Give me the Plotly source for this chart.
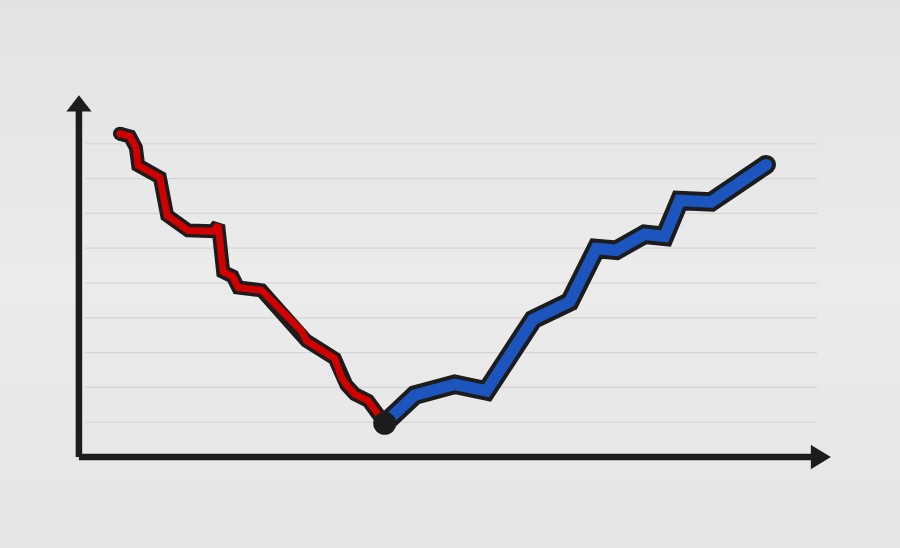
import plotly.graph_objects as go

# --- data ---
red_x = [5.49, 6.83, 7.63, 7.94, 10.84, 11.82, 14.63, 17.98, 18.65, 19.32, 20.58, 21.33,
         24.46, 29.81, 30.48, 34.27, 35.17, 35.84, 36.95, 38.73, 40.96]
red_y = [9.29, 9.21, 8.89, 8.38, 8.03, 6.94, 6.51, 6.49, 6.66, 5.32, 5.19, 4.87,
         4.79, 3.62, 3.34, 2.83, 2.29, 2.07, 1.81, 1.62, 0.97]
blue_x = [40.96, 44.98, 50.33, 54.58, 60.82, 65.73, 69.30, 71.98, 75.77, 78.45, 80.46, 84.70, 92.06]
blue_y = [0.97, 1.78, 2.09, 1.90, 3.95, 4.46, 5.99, 5.94, 6.40, 6.34, 7.37, 7.33, 8.40]
grid_values = [1, 2, 3, 4, 5, 6, 7, 8, 9]

BLACK = "#1c1c1c"
RED = "#d10000"
BLUE = "#1c55be"

fig = go.Figure()

def add_line(xs, ys, color, w):
    fig.add_trace(go.Scatter(x=xs, y=ys, mode="lines", line=dict(color=color, width=w),
                             hoverinfo="skip", cliponaxis=False))

def add_caps(xs, ys, color, size):
    fig.add_trace(go.Scatter(x=[xs[0], xs[-1]], y=[ys[0], ys[-1]], mode="markers",
                             marker=dict(color=color, size=size, opacity=1, line=dict(width=0)),
                             hoverinfo="skip", cliponaxis=False))

# red segment: outline then core
add_line(red_x, red_y, BLACK, 14)
add_caps(red_x, red_y, BLACK, 14)
add_line(red_x, red_y, RED, 7)
add_caps(red_x, red_y, RED, 7)
# blue segment
add_line(blue_x, blue_y, BLACK, 19.5)
add_caps(blue_x, blue_y, BLACK, 19.5)
add_line(blue_x, blue_y, BLUE, 11.5)
add_caps(blue_x, blue_y, BLUE, 11.5)
# turning point dot
fig.add_trace(go.Scatter(x=[blue_x[0]], y=[blue_y[0]], mode="markers",
                         marker=dict(color=BLACK, size=23, opacity=1, line=dict(width=0)),
                         hoverinfo="skip", cliponaxis=False))

shapes = []
# background gradient bands (paper)
bands = 24
top_c, mid_c, bot_c = 226, 235, 228
for i in range(bands):
    t = (i + 0.5) / bands  # 0 bottom -> 1 top
    if t > 0.5:
        c = mid_c + (top_c - mid_c) * (t - 0.5) / 0.5
    else:
        c = mid_c + (bot_c - mid_c) * (0.5 - t) / 0.5
    c = int(round(c))
    shapes.append(dict(type="rect", xref="paper", yref="paper", x0=-0.1, x1=1.1,
                       y0=-0.3 + i * 1.6 / bands, y1=-0.3 + (i + 1) * 1.6 / bands,
                       fillcolor=f"rgb({c},{c},{c})", line=dict(width=0), layer="below"))
# grid lines
for g in grid_values:
    shapes.append(dict(type="line", xref="x", yref="y", x0=0.8, x1=98.9, y0=g, y1=g,
                       line=dict(color="#d4d4d4", width=1.2), layer="below"))
# axes
shapes.append(dict(type="line", xref="x", yref="y", x0=0, x1=0, y0=0, y1=10.0,
                   line=dict(color=BLACK, width=6.5)))
shapes.append(dict(type="line", xref="x", yref="y", x0=0, x1=99.5, y0=0, y1=0,
                   line=dict(color=BLACK, width=6.5)))
# arrow heads
shapes.append(dict(type="path", xref="x", yref="y",
                   path="M -1.15,9.98 L 0,10.30 L 1.15,9.98 Z",
                   fillcolor=BLACK, line=dict(color=BLACK, width=4)))
shapes.append(dict(type="path", xref="x", yref="y",
                   path="M 98.3,0.25 L 100.2,0 L 98.3,-0.25 Z",
                   fillcolor=BLACK, line=dict(color=BLACK, width=4)))

fig.update_layout(
    width=900, height=548,
    margin=dict(l=64.06, r=66.5, t=94.56, b=77.06, autoexpand=False),
    paper_bgcolor="#e9e9e9", plot_bgcolor="rgba(0,0,0,0)",
    showlegend=False,
    shapes=shapes,
    xaxis=dict(range=[-2, 101], visible=False, fixedrange=True),
    yaxis=dict(range=[-0.4, 10.4], visible=False, fixedrange=True),
)

fig.write_html("out.html", config={"displayModeBar": False},
               post_script="document.body.style.margin='0';document.body.style.overflow='hidden';")
